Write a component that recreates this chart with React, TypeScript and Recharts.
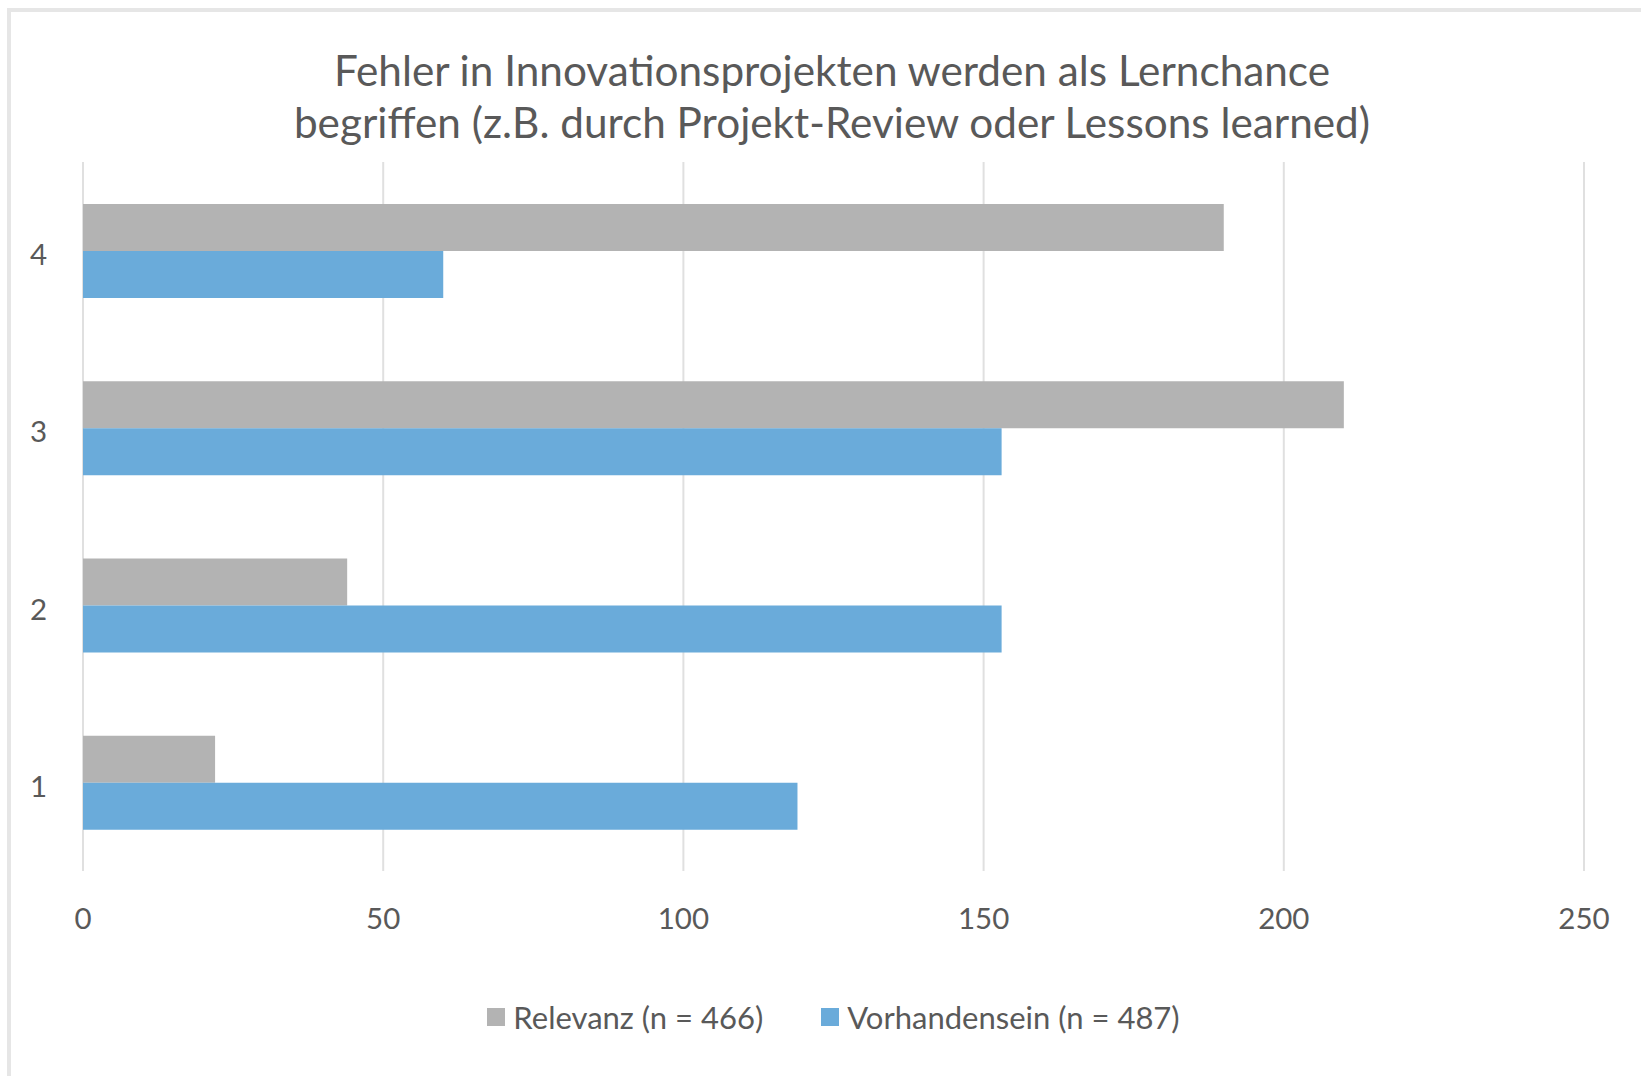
import React from "react";
import { BarChart, Bar, XAxis, YAxis, CartesianGrid, Legend } from "recharts";

// survey answers per rating level, top to bottom
const categories = ["4", "3", "2", "1"];
const relevanz = [190, 210, 44, 22];
const vorhandensein = [60, 153, 153, 119];
const xTicks = [0, 50, 100, 150, 200, 250];

const data = categories.map((name, i) => ({
  name,
  relevanz: relevanz[i],
  vorhandensein: vorhandensein[i],
}));

const FONT = "Lato, 'Open Sans', sans-serif";
const TEXT = "#595959";

const LegendContent = (props: any) => {
  const { payload } = props;
  return (
    <div
      style={{
        display: "flex",
        justifyContent: "center",
        fontFamily: FONT,
        fontSize: 31,
        color: TEXT,
      }}
    >
      {payload.map((p: any, i: number) => (
        <div
          key={p.value}
          style={{ display: "flex", alignItems: "center", marginLeft: i ? 58 : 0 }}
        >
          <span
            style={{ width: 18, height: 18, background: p.color, marginRight: 8 }}
          />
          <span>{p.value}</span>
        </div>
      ))}
    </div>
  );
};

const App = () => {
  return (
    <div style={{ position: "relative", width: 1641, height: 1076, background: "#fff" }}>
      <style>{`body{margin:0}`}</style>
      <div
        style={{
          position: "absolute",
          left: 7,
          top: 8,
          right: 0,
          bottom: 0,
          borderLeft: "4px solid #e6e6e6",
          borderTop: "4px solid #e6e6e6",
        }}
      />
      <div
        style={{
          position: "absolute",
          left: 0,
          top: 44,
          width: 1664,
          textAlign: "center",
          fontFamily: FONT,
          fontSize: 42.3,
          lineHeight: "52px",
          color: TEXT,
        }}
      >
        Fehler in Innovationsprojekten werden als Lernchance
        <br />
        begriffen (z.B. durch Projekt-Review oder Lessons learned)
      </div>
      <div style={{ position: "absolute", left: 0, top: 0 }}>
        <BarChart
          width={1641}
          height={1076}
          data={data}
          layout="vertical"
          barGap={0}
          barSize={47}
          margin={{ top: 162, right: 57, left: 23, bottom: 145 }}
        >
          <CartesianGrid horizontal={false} stroke="#e0e0e0" strokeWidth={2} />
          <XAxis
            type="number"
            domain={[0, 250]}
            ticks={xTicks}
            axisLine={false}
            tickLine={false}
            tickSize={0}
            tickMargin={37}
            height={60}
            tick={{ fontFamily: FONT, fontSize: 29.5, fill: TEXT }}
          />
          <YAxis
            type="category"
            dataKey="name"
            axisLine={false}
            tickLine={false}
            tickSize={0}
            tickMargin={36}
            width={60}
            tick={{ fontFamily: FONT, fontSize: 29.5, fill: TEXT, dy: 4 }}
          />
          <Legend
            layout="horizontal"
            verticalAlign="middle"
            align="center"
            content={<LegendContent />}
            wrapperStyle={{ top: 998, left: 83, width: 1501 }}
          />
          <Bar
            dataKey="relevanz"
            name="Relevanz (n = 466)"
            fill="#b3b3b3"
            isAnimationActive={false}
          />
          <Bar
            dataKey="vorhandensein"
            name="Vorhandensein (n = 487)"
            fill="#6aabda"
            isAnimationActive={false}
          />
        </BarChart>
      </div>
    </div>
  );
};

export default App;
